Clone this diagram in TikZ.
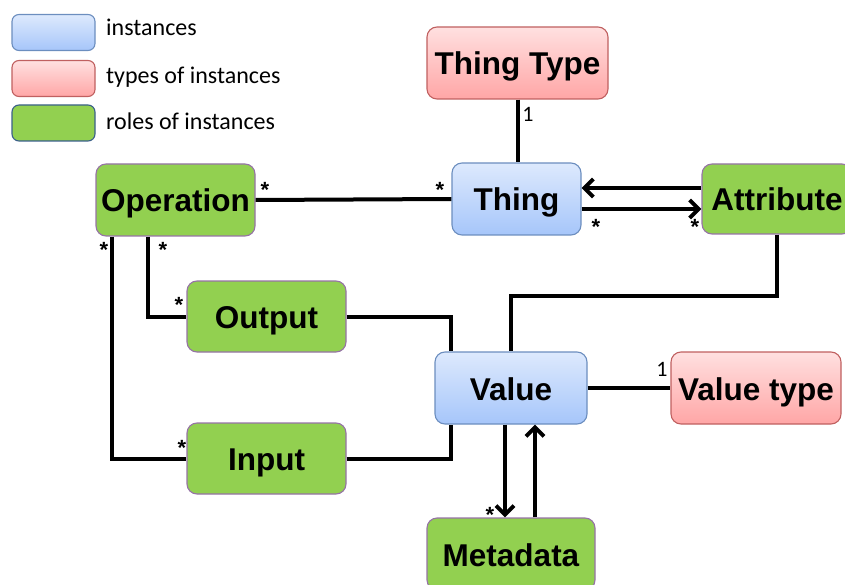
\documentclass[tikz,border=0pt]{standalone}
\usepackage{fontspec}
\setmainfont{Liberation Sans}
\newfontfamily\legendfont{Carlito}
\usetikzlibrary{arrows.meta,calc}

\definecolor{instTop}{HTML}{DDE9FD}
\definecolor{instBot}{HTML}{A6C6FA}
\definecolor{instLine}{HTML}{6C8EBF}
\definecolor{typeTop}{HTML}{FFE0E0}
\definecolor{typeBot}{HTML}{FFA6A6}
\definecolor{typeLine}{HTML}{C06060}
\definecolor{roleFill}{HTML}{92D050}
\definecolor{roleLine}{HTML}{9673A6}
\definecolor{roleKeyLine}{HTML}{3A5F8A}

\tikzset{
  box/.style={rectangle, rounded corners=10pt, line width=1.1pt,
    font=\fontsize{31.5}{36}\selectfont\bfseries,
    text height=24pt, text depth=0pt, inner sep=2pt},
  inst/.style={box, draw=instLine, top color=instTop, bottom color=instBot},
  kind/.style={box, draw=typeLine, top color=typeTop, bottom color=typeBot},
  role/.style={box, draw=roleLine, fill=roleFill},
  keybox/.style={rectangle, rounded corners=7pt, line width=1.1pt,
    minimum width=83pt, minimum height=36pt, inner sep=0pt},
  keytext/.style={anchor=base west, inner sep=0pt,
    font=\legendfont\fontsize{24}{28}\selectfont},
  conn/.style={line width=4pt},
  arr/.style={conn, -{Straight Barb[length=9pt,width=18pt]}},
  mult/.style={anchor=base, inner sep=0pt, font=\legendfont\fontsize{22}{26}\selectfont},
  many/.style={anchor=base, inner sep=0pt, font=\fontsize{22}{26}\selectfont\bfseries},
}

\begin{document}
\begin{tikzpicture}[x=1pt,y=-1pt]
\useasboundingbox (0,0) rectangle (845,585);
\clip (0,0) rectangle (845,585);

% legend
\node[keybox, draw=instLine, top color=instTop, bottom color=instBot] (k1) at (53.5,32.5) {};
\node[keybox, draw=typeLine, top color=typeTop, bottom color=typeBot] (k2) at (53.5,78.5) {};
\node[keybox, draw=roleKeyLine, fill=roleFill] (k3) at (53.5,123) {};
\node[keytext] (t1) at (106,36) {instances};
\node[keytext] (t2) at (106,84) {types of instances};
\node[keytext] (t3) at (106,130) {roles of instances};

% classes
\node[kind, minimum width=181pt, minimum height=72pt] (ttype) at (517.5,63) {Thing Type};
\node[inst, minimum width=129pt, minimum height=72pt] (thing) at (516.5,199) {Thing};
\node[role, minimum width=150pt, minimum height=70pt] (attr) at (777,199) {Attribute};
\node[role, minimum width=159pt, minimum height=72pt] (oper) at (175.5,200) {Operation};
\node[role, minimum width=159pt, minimum height=71pt] (outp) at (266.5,316.5) {Output};
\node[role, minimum width=159pt, minimum height=71pt] (inp) at (266.5,458.5) {Input};
\node[inst, minimum width=152pt, minimum height=72pt] (val) at (511,388) {Value};
\node[kind, minimum width=170pt, minimum height=72pt] (vtype) at (756,388) {Value type};
\node[role, minimum width=168pt, minimum height=72pt] (meta) at (511,554) {Metadata};

% associations
\draw[conn] (ttype.south) -- (ttype.south |- thing.north);
\draw[conn] (oper.east) -- (thing.west);
\draw[arr] ([yshift=11pt]attr.west) -- ([yshift=11pt]attr.west -| thing.east);
\draw[arr] ([yshift=-10pt]thing.east) -- ([yshift=-10pt]thing.east -| attr.west);
\draw[conn] (attr.south) -- ++(0,61) -| (val.north);
\draw[conn] ([xshift=-27.5pt]oper.south) |- (outp.west);
\draw[conn] ([xshift=-63.5pt]oper.south) |- (inp.west);
\draw[conn] (outp.east) -| ([xshift=17pt]val.north west);
\draw[conn] (inp.east) -| ([xshift=17pt]val.south west);
\draw[conn] (val.east) -- (vtype.west);
\draw[arr] ([xshift=-6pt]val.south) -- ([xshift=-6pt]val.south |- meta.north);
\draw[arr] ([xshift=24pt]meta.north) -- ([xshift=24pt]meta.north |- val.south);

% multiplicities
\node[mult] (m1) at (528,122) {1};
\node[mult] (m2) at (662,376) {1};
\node[many] (s1) at (265,198) {*};
\node[many] (s2) at (440,198) {*};
\node[many] (s3) at (596,234) {*};
\node[many] (s4) at (695,235) {*};
\node[many] (s5) at (104,258) {*};
\node[many] (s6) at (163,258) {*};
\node[many] (s7) at (179,312) {*};
\node[many] (s8) at (182,455) {*};
\node[many] (s9) at (490,522) {*};
\end{tikzpicture}
\end{document}
